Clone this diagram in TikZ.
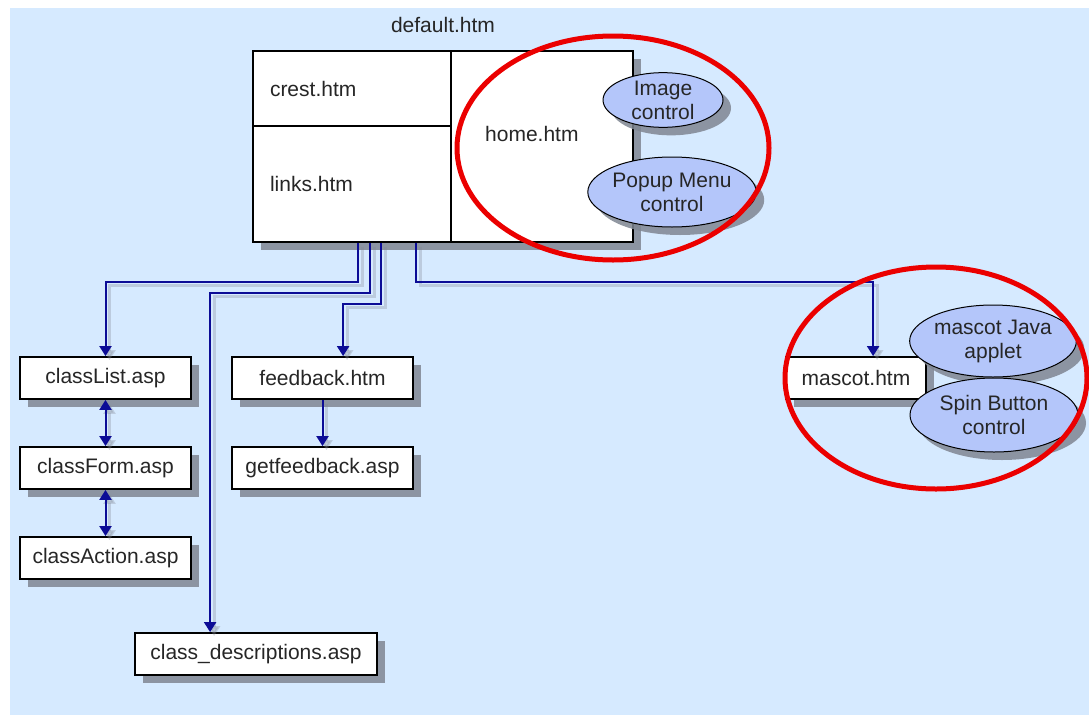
\documentclass[tikz,border=0pt]{standalone}
\usepackage{fontspec}
\setmainfont{Liberation Sans}
\usetikzlibrary{arrows.meta,shapes.geometric,shadows}

\definecolor{bgblue}{RGB}{214,234,255}
\definecolor{navy}{RGB}{12,12,150}
\definecolor{bubble}{RGB}{180,198,250}
\definecolor{shade}{RGB}{128,134,146}
\definecolor{ringred}{RGB}{235,0,0}

% draw a connector with its soft offset shadow underneath
\newcommand\linkpath[2]{%
  \draw[wireshadow,#1] #2;
  \draw[wire,#1] #2;}

\begin{document}
\begin{tikzpicture}[x=1pt,y=-1pt,
  font=\fontsize{21}{24}\selectfont,
  shadowed/.style={drop shadow={shadow xshift=8pt,shadow yshift=-8pt,fill=shade,opacity=0.85}},
  page/.style={draw=black,line width=1.8,fill=white,inner sep=0,
    minimum height=42,text=black!85,shadowed},
  cell/.style={draw=black,line width=1.8,fill=white,inner sep=0,text=black!85},
  bubblenode/.style={ellipse,draw=black,line width=1,fill=bubble,inner sep=0,
    align=center,text=black!85,shadowed},
  ring/.style={ellipse,draw=ringred,line width=5,inner sep=0},
  wire/.style={draw=navy,line width=2},
  wireshadow/.style={draw=shade,line width=3,opacity=0.3,
    transform canvas={xshift=4pt,yshift=-4pt}},
  tip/.style={-{Triangle[width=12pt,length=10pt]}},
  tips/.style={{Triangle[width=12pt,length=10pt]}-{Triangle[width=12pt,length=10pt]}}]

\useasboundingbox (0,0) rectangle (1089,715);
\fill[white] (0,0) rectangle (1089,715);
\fill[bgblue] (10,8) rectangle (1089,715);

% frameset default.htm and its three frames
\node[text=black!85] (deflbl) at (443,25) {default.htm};
\node[page,minimum width=380,minimum height=191] (main) at (443,146.5) {};
\node[cell,minimum height=75,inner xsep=17,text width=164,align=left] (crest) at (352,88.5) {crest.htm};
\node[cell,minimum height=116,inner xsep=17,text width=164,align=left] (links) at (352,184) {links.htm};
\node[cell,minimum width=182,minimum height=191] (home) at (542,146.5) {};
\node[anchor=west,text=black!85,inner sep=0] (homelbl) at (485,134) {home.htm};

\node[bubblenode,minimum width=120,minimum height=54] (imgctl) at (663,100) {Image\\control};
\node[bubblenode,minimum width=168,minimum height=70] (popup) at (672,192) {Popup Menu\\control};

% pages reached from the links frame
\node[page,minimum width=171] (classList) at (105.5,378) {classList.asp};
\node[page,minimum width=171] (classForm) at (105.5,468) {classForm.asp};
\node[page,minimum width=171] (classAction) at (105.5,558) {classAction.asp};
\node[page,minimum width=181] (feedback) at (322.5,378) {feedback.htm};
\node[page,minimum width=181] (getfeedback) at (322.5,468) {getfeedback.asp};
\node[page,minimum width=242] (classdesc) at (256,654) {class\_descriptions.asp};
\node[page,minimum width=140] (mascot) at (856,378) {mascot.htm};

\node[bubblenode,minimum width=166,minimum height=72] (java) at (993,341) {mascot Java\\applet};
\node[bubblenode,minimum width=168,minimum height=74] (spin) at (994,415) {Spin Button\\control};

% connectors
\linkpath{tip}{([xshift=106pt]main.south west) -- ++(0,39) -| (classList.north)}
\linkpath{tip}{([xshift=118pt]main.south west) -- ++(0,50) -| ([xshift=76pt]classdesc.north west)}
\linkpath{tip}{([xshift=129pt]main.south west) -- ++(0,61) -| ([xshift=112pt]feedback.north west)}
\linkpath{tip}{([xshift=164pt]main.south west) -- ++(0,39) -| ([xshift=88pt]mascot.north west)}
\linkpath{tip}{(feedback.south) -- (getfeedback.north)}
\linkpath{tips}{(classList.south) -- (classForm.north)}
\linkpath{tips}{(classForm.south) -- (classAction.north)}

% red highlight rings
\node[ring,minimum width=312,minimum height=224] (ringhome) at (613,148) {};
\node[ring,minimum width=302,minimum height=222] (ringmascot) at (936,378) {};
\end{tikzpicture}
\end{document}
